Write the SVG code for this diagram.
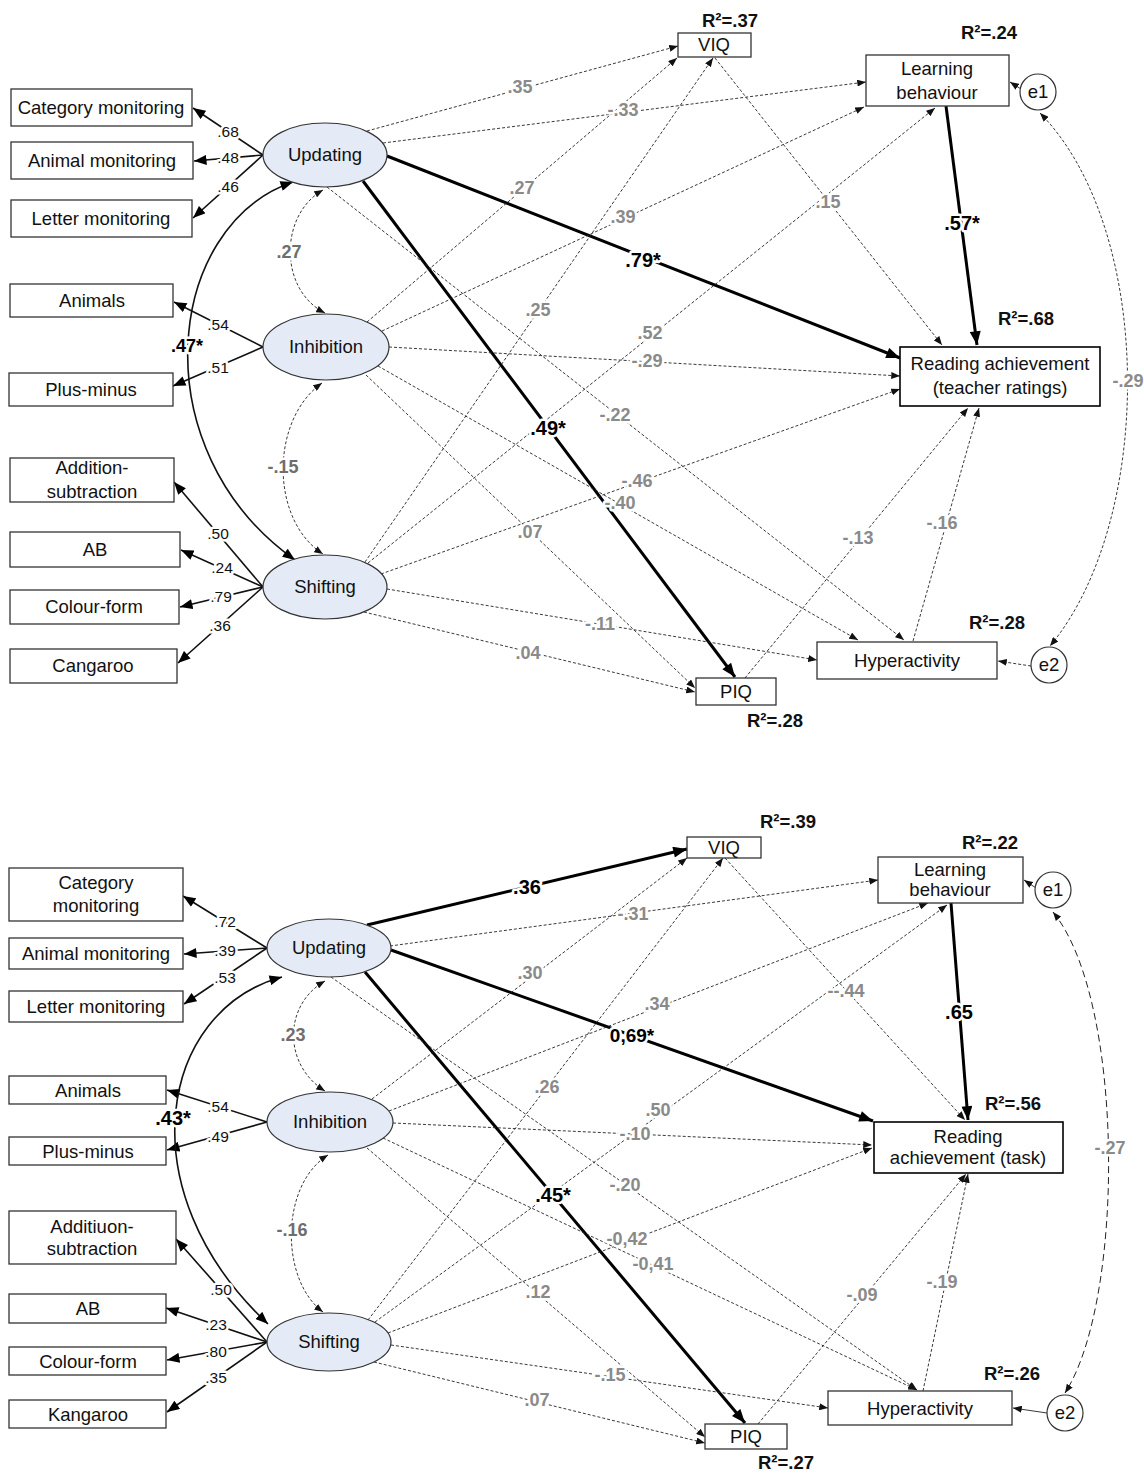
<svg xmlns="http://www.w3.org/2000/svg" width="1144" height="1483" viewBox="0 0 1144 1483">
<defs>
<marker id="as" viewBox="0 0 10 8" refX="10" refY="4" markerWidth="9" markerHeight="7" orient="auto-start-reverse" markerUnits="userSpaceOnUse"><path d="M0,0L10,4L0,8z" fill="#111"/></marker>
<marker id="am" viewBox="0 0 10 8" refX="10" refY="4" markerWidth="13" markerHeight="10" orient="auto-start-reverse" markerUnits="userSpaceOnUse"><path d="M0,0L10,4L0,8z" fill="#000"/></marker>
<marker id="al" viewBox="0 0 10 8" refX="10" refY="4" markerWidth="15" markerHeight="11" orient="auto" markerUnits="userSpaceOnUse"><path d="M0,0L10,4L0,8z" fill="#000"/></marker>
</defs>
<style>
.box{fill:#fff;stroke:#333;stroke-width:1.3}
.ell{fill:#e4ebf6;stroke:#333;stroke-width:1.2}
.err{fill:#fff;stroke:#333;stroke-width:1.2}
text{font-family:"Liberation Sans",Arial,sans-serif}
.t{font-size:18.5px;fill:#111;text-anchor:middle}
.r2{font-size:18.5px;font-weight:bold;fill:#111;text-anchor:middle}
.ld{font-size:15.5px;fill:#111;text-anchor:middle;stroke:#fff;stroke-width:5;paint-order:stroke;stroke-linejoin:round}
.g{font-size:18px;font-weight:bold;fill:#8a8a8a;text-anchor:middle;stroke:#fff;stroke-width:5;paint-order:stroke;stroke-linejoin:round}
.gc{font-size:18px;font-weight:bold;fill:#6e6e6e;text-anchor:middle;stroke:#fff;stroke-width:5;paint-order:stroke;stroke-linejoin:round}
.b{font-size:20px;font-weight:bold;fill:#000;text-anchor:middle;stroke:#fff;stroke-width:5;paint-order:stroke;stroke-linejoin:round}
.d{fill:none;stroke:#222;stroke-width:0.9;stroke-dasharray:3 2;marker-end:url(#as)}
.k{fill:none;stroke:#000;stroke-width:3;marker-end:url(#al)}
.s{fill:none;stroke:#111;stroke-width:1.6;marker-end:url(#am)}
.cv{fill:none;stroke:#222;stroke-width:0.9;stroke-dasharray:3 2;marker-start:url(#as);marker-end:url(#as)}
.cvl{fill:none;stroke:#222;stroke-width:1;stroke-dasharray:7 4;marker-start:url(#as);marker-end:url(#as)}
.cs{fill:none;stroke:#111;stroke-width:1.6;marker-start:url(#am);marker-end:url(#am)}
</style>
<rect width="1144" height="1483" fill="#fff"/>

<!-- ===================== TOP MODEL ===================== -->
<g id="connectors-top">
<!-- loadings -->
<line class="s" x1="263" y1="155" x2="193" y2="108"/>
<line class="s" x1="263" y1="155" x2="194" y2="161"/>
<line class="s" x1="263" y1="155" x2="193" y2="218"/>
<line class="s" x1="263" y1="347" x2="174" y2="302"/>
<line class="s" x1="263" y1="347" x2="173" y2="386"/>
<line class="s" x1="263" y1="587" x2="174" y2="482"/>
<line class="s" x1="263" y1="587" x2="181" y2="550"/>
<line class="s" x1="263" y1="587" x2="180" y2="607"/>
<line class="s" x1="263" y1="587" x2="178" y2="663"/>
<!-- factor covariances -->
<path class="cs" d="M293,182 C165,225 140,450 295,560"/>
<path class="cv" d="M323,190 C279,215 279,290 325,313"/>
<path class="cv" d="M322,383 C270,420 270,520 323,554"/>
<!-- Updating paths -->
<line class="d" x1="367" y1="131" x2="678" y2="46"/>
<line class="d" x1="383" y1="143" x2="866" y2="82"/>
<line class="k" x1="387" y1="156" x2="900" y2="358"/>
<line class="k" x1="363" y1="181" x2="735" y2="677"/>
<line class="d" x1="327" y1="187" x2="904" y2="640"/>
<!-- Inhibition paths -->
<line class="d" x1="367" y1="322" x2="677" y2="58"/>
<line class="d" x1="382" y1="331" x2="864" y2="107"/>
<line class="d" x1="389" y1="347" x2="900" y2="376"/>
<line class="d" x1="378" y1="366" x2="858" y2="640"/>
<line class="d" x1="366" y1="375" x2="695" y2="688"/>
<!-- Shifting paths -->
<line class="d" x1="365" y1="562" x2="713" y2="58"/>
<line class="d" x1="368" y1="563" x2="935" y2="108"/>
<line class="d" x1="381" y1="574" x2="900" y2="389"/>
<line class="d" x1="387" y1="589" x2="817" y2="660"/>
<line class="d" x1="364" y1="612" x2="695" y2="692"/>
<!-- to reading -->
<line class="d" x1="715" y1="58" x2="942" y2="345"/>
<line class="d" x1="745" y1="678" x2="968" y2="408"/>
<line class="d" x1="913" y1="641" x2="979" y2="408"/>
<line class="k" x1="946" y1="106" x2="977" y2="345"/>
<!-- errors -->
<line class="d" x1="1021" y1="89" x2="1010" y2="82" style="stroke-dasharray:none"/>
<line class="d" x1="1031" y1="666" x2="998" y2="661"/>
<path class="cv" d="M1040,113 C1155,230 1155,520 1050,646"/>
</g>

<g id="edge-labels-top">
<text class="ld" x="228" y="137">.68</text>
<text class="ld" x="228" y="163">.48</text>
<text class="ld" x="228" y="192">.46</text>
<text class="ld" x="218" y="330">.54</text>
<text class="ld" x="218" y="373">.51</text>
<text class="ld" x="218" y="539">.50</text>
<text class="ld" x="222" y="573">.24</text>
<text class="ld" x="221" y="602">.79</text>
<text class="ld" x="220" y="631">.36</text>
<text class="b" x="187" y="352" style="font-size:18px">.47*</text>
<text class="gc" x="289" y="258">.27</text>
<text class="gc" x="283" y="473">-.15</text>
<text class="g" x="520" y="93">.35</text>
<text class="g" x="623" y="116">-.33</text>
<text class="b" x="643" y="267">.79*</text>
<text class="b" x="548" y="435">.49*</text>
<text class="g" x="615" y="421">-.22</text>
<text class="g" x="522" y="194">.27</text>
<text class="g" x="623" y="223">.39</text>
<text class="g" x="647" y="367">-.29</text>
<text class="g" x="620" y="509">-.40</text>
<text class="g" x="530" y="538">.07</text>
<text class="g" x="538" y="316">.25</text>
<text class="g" x="650" y="339">.52</text>
<text class="g" x="637" y="487">-.46</text>
<text class="g" x="600" y="630">-.11</text>
<text class="g" x="528" y="659">.04</text>
<text class="g" x="828" y="208">.15</text>
<text class="g" x="858" y="544">-.13</text>
<text class="g" x="942" y="529">-.16</text>
<text class="b" x="962" y="230">.57*</text>
<text class="g" x="1128" y="387">-.29</text>
</g>

<g id="t-category"><rect class="box" x="11" y="89" width="181" height="37"/><text class="t" x="101" y="114">Category monitoring</text></g>
<g id="t-animalmon"><rect class="box" x="11" y="142" width="182" height="37"/><text class="t" x="102" y="167">Animal monitoring</text></g>
<g id="t-letter"><rect class="box" x="11" y="200" width="181" height="37"/><text class="t" x="101" y="225">Letter monitoring</text></g>
<g id="t-animals"><rect class="box" x="10" y="284" width="163" height="33"/><text class="t" x="92" y="307">Animals</text></g>
<g id="t-plusminus"><rect class="box" x="9" y="373" width="164" height="33"/><text class="t" x="91" y="396">Plus-minus</text></g>
<g id="t-addition"><rect class="box" x="10" y="458" width="164" height="44"/><text class="t" x="92" y="474">Addition-</text><text class="t" x="92" y="498">subtraction</text></g>
<g id="t-ab"><rect class="box" x="10" y="532" width="170" height="35"/><text class="t" x="95" y="556">AB</text></g>
<g id="t-colour"><rect class="box" x="10" y="590" width="169" height="34"/><text class="t" x="94" y="613">Colour-form</text></g>
<g id="t-cangaroo"><rect class="box" x="10" y="649" width="167" height="34"/><text class="t" x="93" y="672">Cangaroo</text></g>

<g id="t-updating"><ellipse class="ell" cx="325" cy="155" rx="62" ry="32"/><text class="t" x="325" y="161">Updating</text></g>
<g id="t-inhibition"><ellipse class="ell" cx="326" cy="347" rx="63" ry="33"/><text class="t" x="326" y="353">Inhibition</text></g>
<g id="t-shifting"><ellipse class="ell" cx="325" cy="587" rx="62" ry="32"/><text class="t" x="325" y="593">Shifting</text></g>

<g id="t-viq"><rect class="box" x="678" y="33" width="73" height="24"/><text class="t" x="714" y="51">VIQ</text><text class="r2" x="730" y="27">R²=.37</text></g>
<g id="t-learning"><rect class="box" x="866" y="55" width="143" height="51"/><text class="t" x="937" y="75">Learning</text><text class="t" x="937" y="99">behaviour</text><text class="r2" x="989" y="39">R²=.24</text></g>
<g id="t-e1"><circle class="err" cx="1038" cy="92" r="18"/><text class="t" x="1038" y="98">e1</text></g>
<g id="t-reading"><rect class="box" x="900" y="347" width="200" height="59" style="stroke:#000;stroke-width:1.6"/><text class="t" x="1000" y="370">Reading achievement</text><text class="t" x="1000" y="394">(teacher ratings)</text><text class="r2" x="1026" y="325">R²=.68</text></g>
<g id="t-hyper"><rect class="box" x="817" y="642" width="180" height="37"/><text class="t" x="907" y="667">Hyperactivity</text><text class="r2" x="997" y="629">R²=.28</text></g>
<g id="t-e2"><circle class="err" cx="1049" cy="665" r="18"/><text class="t" x="1049" y="671">e2</text></g>
<g id="t-piq"><rect class="box" x="696" y="678" width="80" height="27"/><text class="t" x="736" y="698">PIQ</text><text class="r2" x="775" y="727">R²=.28</text></g>

<!-- ===================== BOTTOM MODEL ===================== -->
<g id="connectors-bottom">
<line class="s" x1="267" y1="948" x2="183" y2="896"/>
<line class="s" x1="267" y1="948" x2="184" y2="954"/>
<line class="s" x1="267" y1="948" x2="184" y2="1004"/>
<line class="s" x1="267" y1="1122" x2="167" y2="1090"/>
<line class="s" x1="267" y1="1122" x2="167" y2="1150"/>
<line class="s" x1="267" y1="1342" x2="176" y2="1239"/>
<line class="s" x1="267" y1="1342" x2="166" y2="1308"/>
<line class="s" x1="267" y1="1342" x2="167" y2="1360"/>
<line class="s" x1="267" y1="1342" x2="167" y2="1412"/>
<path class="cs" d="M282,977 C160,1010 125,1190 268,1324"/>
<path class="cv" d="M325,981 C283,1005 283,1065 325,1091"/>
<path class="cv" d="M328,1155 C280,1185 280,1280 323,1312"/>
<!-- Updating -->
<line class="k" x1="367" y1="925" x2="687" y2="849"/>
<line class="d" x1="390" y1="946" x2="878" y2="880"/>
<line class="k" x1="391" y1="950" x2="873" y2="1121"/>
<line class="k" x1="365" y1="972" x2="745" y2="1423"/>
<line class="d" x1="331" y1="977" x2="917" y2="1390"/>
<!-- Inhibition -->
<line class="d" x1="372" y1="1099" x2="687" y2="858"/>
<line class="d" x1="389" y1="1111" x2="928" y2="903"/>
<line class="d" x1="393" y1="1123" x2="872" y2="1145"/>
<line class="d" x1="383" y1="1138" x2="917" y2="1390"/>
<line class="d" x1="367" y1="1148" x2="705" y2="1437"/>
<!-- Shifting -->
<line class="d" x1="368" y1="1320" x2="723" y2="858"/>
<line class="d" x1="375" y1="1322" x2="947" y2="905"/>
<line class="d" x1="388" y1="1333" x2="872" y2="1148"/>
<line class="d" x1="391" y1="1345" x2="828" y2="1408"/>
<line class="d" x1="374" y1="1362" x2="705" y2="1443"/>
<!-- to reading -->
<line class="d" x1="725" y1="858" x2="965" y2="1120"/>
<line class="d" x1="758" y1="1424" x2="966" y2="1174"/>
<line class="d" x1="923" y1="1391" x2="968" y2="1174"/>
<line class="k" x1="951" y1="903" x2="968" y2="1120"/>
<!-- errors -->
<line class="d" x1="1036" y1="888" x2="1024" y2="880" style="stroke-dasharray:none"/>
<line class="d" x1="1047" y1="1413" x2="1013" y2="1408" style="stroke-dasharray:none"/>
<path class="cvl" d="M1053,912 C1125,1000 1125,1300 1065,1393"/>
</g>

<g id="edge-labels-bottom">
<text class="ld" x="225" y="927">.72</text>
<text class="ld" x="225" y="956">.39</text>
<text class="ld" x="225" y="983">.53</text>
<text class="ld" x="218" y="1112">.54</text>
<text class="ld" x="218" y="1142">.49</text>
<text class="ld" x="221" y="1295">.50</text>
<text class="ld" x="216" y="1330">.23</text>
<text class="ld" x="216" y="1357">.80</text>
<text class="ld" x="216" y="1383">.35</text>
<text class="b" x="173" y="1125">.43*</text>
<text class="gc" x="293" y="1041">.23</text>
<text class="gc" x="292" y="1236">-.16</text>
<text class="b" x="527" y="894">.36</text>
<text class="g" x="633" y="920">-.31</text>
<text class="b" x="632" y="1042" style="font-size:19px">0,69*</text>
<text class="b" x="553" y="1202">.45*</text>
<text class="g" x="625" y="1191">-.20</text>
<text class="g" x="530" y="979">.30</text>
<text class="g" x="657" y="1010">.34</text>
<text class="g" x="635" y="1140">-.10</text>
<text class="g" x="653" y="1270">-0,41</text>
<text class="g" x="538" y="1298">.12</text>
<text class="g" x="547" y="1093">.26</text>
<text class="g" x="658" y="1116">.50</text>
<text class="g" x="627" y="1245">-0,42</text>
<text class="g" x="610" y="1381">-.15</text>
<text class="g" x="537" y="1406">.07</text>
<text class="g" x="846" y="997">--.44</text>
<text class="g" x="862" y="1301">-.09</text>
<text class="g" x="942" y="1288">-.19</text>
<text class="b" x="959" y="1019">.65</text>
<text class="g" x="1110" y="1154">-.27</text>
</g>

<g id="b-category"><rect class="box" x="9" y="868" width="174" height="53"/><text class="t" x="96" y="889">Category</text><text class="t" x="96" y="912">monitoring</text></g>
<g id="b-animalmon"><rect class="box" x="9" y="938" width="174" height="31"/><text class="t" x="96" y="960">Animal monitoring</text></g>
<g id="b-letter"><rect class="box" x="9" y="991" width="174" height="31"/><text class="t" x="96" y="1013">Letter monitoring</text></g>
<g id="b-animals"><rect class="box" x="9" y="1076" width="157" height="28"/><text class="t" x="88" y="1097">Animals</text></g>
<g id="b-plusminus"><rect class="box" x="9" y="1137" width="157" height="28"/><text class="t" x="88" y="1158">Plus-minus</text></g>
<g id="b-addition"><rect class="box" x="9" y="1211" width="167" height="53"/><text class="t" x="92" y="1233">Additiuon-</text><text class="t" x="92" y="1255">subtraction</text></g>
<g id="b-ab"><rect class="box" x="9" y="1294" width="157" height="29"/><text class="t" x="88" y="1315">AB</text></g>
<g id="b-colour"><rect class="box" x="9" y="1347" width="157" height="28"/><text class="t" x="88" y="1368">Colour-form</text></g>
<g id="b-kangaroo"><rect class="box" x="9" y="1400" width="157" height="28"/><text class="t" x="88" y="1421">Kangaroo</text></g>

<g id="b-updating"><ellipse class="ell" cx="329" cy="948" rx="62" ry="29"/><text class="t" x="329" y="954">Updating</text></g>
<g id="b-inhibition"><ellipse class="ell" cx="330" cy="1122" rx="63" ry="30"/><text class="t" x="330" y="1128">Inhibition</text></g>
<g id="b-shifting"><ellipse class="ell" cx="329" cy="1342" rx="62" ry="29"/><text class="t" x="329" y="1348">Shifting</text></g>

<g id="b-viq"><rect class="box" x="687" y="837" width="74" height="21"/><text class="t" x="724" y="854">VIQ</text><text class="r2" x="788" y="828">R²=.39</text></g>
<g id="b-learning"><rect class="box" x="878" y="857" width="145" height="46"/><text class="t" x="950" y="876">Learning</text><text class="t" x="950" y="896">behaviour</text><text class="r2" x="990" y="849">R²=.22</text></g>
<g id="b-e1"><circle class="err" cx="1053" cy="890" r="18"/><text class="t" x="1053" y="896">e1</text></g>
<g id="b-reading"><rect class="box" x="874" y="1122" width="189" height="51" style="stroke:#000;stroke-width:1.6"/><text class="t" x="968" y="1143">Reading</text><text class="t" x="968" y="1164">achievement (task)</text><text class="r2" x="1013" y="1110">R²=.56</text></g>
<g id="b-hyper"><rect class="box" x="828" y="1391" width="184" height="34"/><text class="t" x="920" y="1415">Hyperactivity</text><text class="r2" x="1012" y="1380">R²=.26</text></g>
<g id="b-e2"><circle class="err" cx="1065" cy="1413" r="18"/><text class="t" x="1065" y="1419">e2</text></g>
<g id="b-piq"><rect class="box" x="705" y="1424" width="82" height="25"/><text class="t" x="746" y="1443">PIQ</text><text class="r2" x="786" y="1469">R²=.27</text></g>
</svg>
